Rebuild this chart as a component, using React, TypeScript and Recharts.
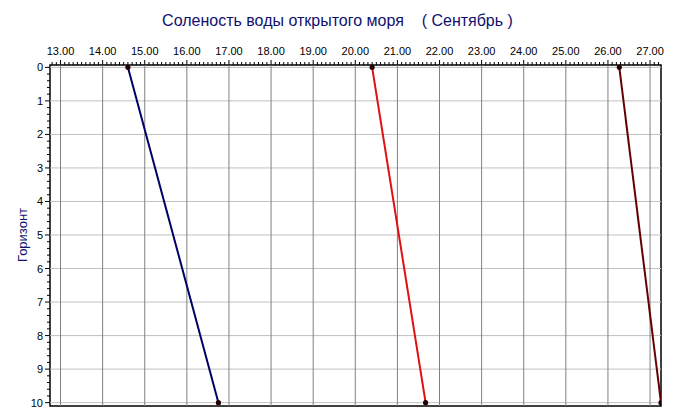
import { LineChart, Line, XAxis, YAxis, ReferenceLine, ReferenceArea } from "recharts";

// солёность на горизонтах 0 и 10
const horizons = [0, 10];
const navyValues = [14.6, 16.75];
const redValues = [20.4, 21.67];
const maroonValues = [26.27, 27.26];

const xMajor = [13, 14, 15, 16, 17, 18, 19, 20, 21, 22, 23, 24, 25, 26, 27];
const yMajor = [0, 1, 2, 3, 4, 5, 6, 7, 8, 9, 10];

const X_DOMAIN: [number, number] = [12.75, 27.26];
const Y_DOMAIN: [number, number] = [-0.07, 10.1];

// minor ticks: 0.1 on x, 0.2 on y
const xMinor: number[] = [];
for (let i = 128; i <= 272; i++) xMinor.push(i / 10);
const yMinor: number[] = [];
for (let i = 0; i <= 50; i++) yMinor.push(i / 5);

const series = [
  { name: "a", color: "#000066", values: navyValues },
  { name: "b", color: "#dd1111", values: redValues },
  { name: "c", color: "#660000", values: maroonValues },
].map((s) => ({ ...s, data: horizons.map((h, i) => ({ x: s.values[i], h })) }));

const isMajor = (v: number) => Math.abs(v - Math.round(v)) < 1e-6;
const FONT = "'Liberation Sans', Arial, sans-serif";

function XTick(props: any) {
  const { x, y, payload } = props;
  const major = isMajor(payload.value);
  return (
    <g>
      <line x1={x} x2={x} y1={y} y2={y - (major ? 5 : 3)} stroke="#000" />
      {major && (
        <text x={x} y={y - 10} textAnchor="middle" fontSize={11} fontFamily={FONT} fill="#000">
          {payload.value.toFixed(2)}
        </text>
      )}
    </g>
  );
}

function YTick(props: any) {
  const { x, y, payload } = props;
  const major = isMajor(payload.value);
  return (
    <g>
      <line x1={x} x2={x - (major ? 5 : 3)} y1={y} y2={y} stroke="#000" />
      {major && (
        <text x={x - 7} y={y + 4} textAnchor="end" fontSize={11} fontFamily={FONT} fill="#000">
          {Math.round(payload.value)}
        </text>
      )}
    </g>
  );
}

export default function App() {
  return (
    <div style={{ position: "absolute", left: 0, top: 0, width: 675, height: 419, background: "#fff" }}>
      <div
        style={{
          position: "absolute",
          top: 12,
          left: 0,
          width: 675,
          textAlign: "center",
          fontFamily: FONT,
          fontSize: 16,
          color: "#10106e",
          whiteSpace: "pre",
        }}
      >
        {"Соленость воды открытого моря    ( Сентябрь )"}
      </div>
      <div
        style={{
          position: "absolute",
          left: 22,
          top: 235,
          transform: "translate(-50%, -50%) rotate(-90deg)",
          fontFamily: FONT,
          fontSize: 13,
          color: "#10106e",
          whiteSpace: "nowrap",
        }}
      >
        Горизонт
      </div>
      <LineChart width={675} height={419} margin={{ top: 0, right: 14, bottom: 13, left: 0 }}>
        <XAxis
          type="number"
          dataKey="x"
          orientation="top"
          domain={X_DOMAIN}
          allowDataOverflow
          ticks={xMinor}
          interval={0}
          tick={<XTick />}
          tickSize={0}
          tickMargin={0}
          tickLine={false}
          axisLine={false}
          height={65}
        />
        <YAxis
          type="number"
          dataKey="h"
          reversed
          domain={Y_DOMAIN}
          allowDataOverflow
          ticks={yMinor}
          interval={0}
          tick={<YTick />}
          tickSize={0}
          tickMargin={0}
          tickLine={false}
          axisLine={false}
          width={50}
        />
        {yMajor.map((v) => (
          <ReferenceLine key={"y" + v} y={v} stroke="#c0c0c0" />
        ))}
        {xMajor.map((v) => (
          <ReferenceLine key={"x" + v} x={v} stroke="#808080" />
        ))}
        <ReferenceArea
          x1={X_DOMAIN[0]}
          x2={X_DOMAIN[1]}
          y1={Y_DOMAIN[0]}
          y2={Y_DOMAIN[1]}
          stroke="#000"
          strokeWidth={1.5}
          fill="none"
          fillOpacity={0}
        />
        {series.map((s) => (
          <Line
            key={s.name}
            data={s.data}
            dataKey="h"
            type="linear"
            stroke={s.color}
            strokeWidth={2}
            dot={{ r: 1.6, fill: "#200000", stroke: "#200000" }}
            isAnimationActive={false}
          />
        ))}
      </LineChart>
    </div>
  );
}
